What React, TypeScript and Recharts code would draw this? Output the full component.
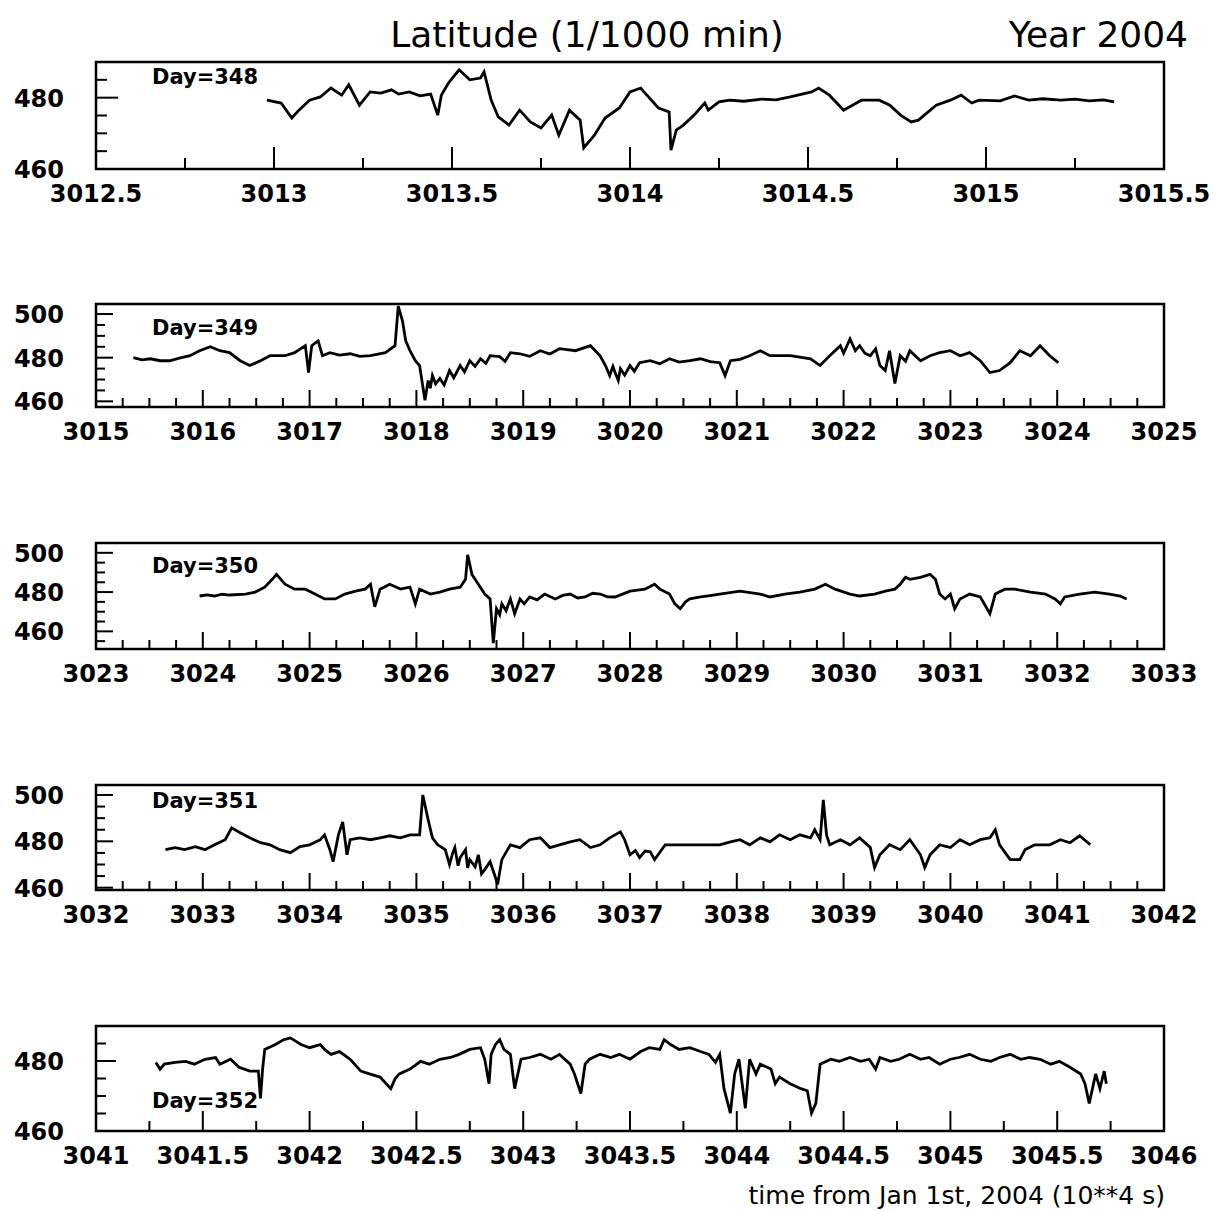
import { LineChart, Line, XAxis, YAxis, ReferenceArea } from 'recharts'

// [time (10^4 s), latitude (1/1000 min)]
const day348: [number, number][] = [
  [3012.98, 479.3], [3013.02, 478.5], [3013.05, 474.3], [3013.07, 476.5], [3013.1, 479.3], [3013.13, 480.2],
  [3013.16, 482.7], [3013.19, 480.7], [3013.21, 483.6], [3013.24, 477.9], [3013.27, 481.6], [3013.3, 481.3],
  [3013.33, 482.2], [3013.35, 481.0], [3013.38, 481.6], [3013.41, 480.5], [3013.44, 481.0], [3013.46, 475.1],
  [3013.47, 480.7], [3013.49, 484.1], [3013.52, 487.8], [3013.55, 485.0], [3013.58, 485.5], [3013.59, 487.2],
  [3013.61, 479.3], [3013.63, 474.6], [3013.66, 472.3], [3013.69, 476.5], [3013.72, 473.2], [3013.75, 471.5],
  [3013.78, 475.1], [3013.8, 469.5], [3013.83, 476.5], [3013.86, 473.7], [3013.87, 465.9], [3013.9, 469.5],
  [3013.93, 474.3], [3013.97, 477.1], [3014.0, 481.6], [3014.03, 482.7], [3014.06, 479.3], [3014.08, 477.1],
  [3014.11, 476.0], [3014.115, 465.3], [3014.13, 470.9], [3014.15, 472.3], [3014.18, 475.1], [3014.21, 478.5],
  [3014.22, 476.5], [3014.25, 478.8], [3014.28, 479.3], [3014.32, 479.0], [3014.37, 479.6], [3014.41, 479.4],
  [3014.45, 480.2], [3014.51, 481.6], [3014.53, 482.7], [3014.56, 480.7], [3014.6, 476.5], [3014.65, 479.3],
  [3014.7, 479.3], [3014.73, 477.9], [3014.76, 475.1], [3014.79, 473.2], [3014.81, 473.7], [3014.86, 477.9],
  [3014.9, 479.3], [3014.93, 480.7], [3014.96, 478.5], [3014.98, 479.3], [3015.04, 479.1], [3015.08, 480.5],
  [3015.12, 479.3], [3015.16, 479.7], [3015.21, 479.3], [3015.25, 479.6], [3015.29, 479.1], [3015.33, 479.4],
  [3015.36, 478.8],
]

const day349: [number, number][] = [
  [3015.35, 480.0], [3015.43, 479.0], [3015.51, 479.5], [3015.6, 478.6], [3015.69, 478.6], [3015.78, 479.8],
  [3015.88, 480.9], [3015.97, 483.2], [3016.07, 485.0], [3016.16, 483.2], [3016.25, 482.3], [3016.35, 478.6],
  [3016.44, 476.4], [3016.54, 478.6], [3016.63, 480.9], [3016.77, 480.9], [3016.86, 482.3], [3016.96, 485.5],
  [3016.99, 473.2], [3017.02, 485.5], [3017.08, 487.7], [3017.12, 480.9], [3017.19, 482.3], [3017.28, 481.2],
  [3017.38, 481.8], [3017.47, 480.6], [3017.57, 480.9], [3017.71, 482.3], [3017.8, 485.5], [3017.83, 503.6],
  [3017.87, 496.8], [3017.9, 487.7], [3017.94, 483.2], [3017.99, 478.6], [3018.03, 476.4], [3018.08, 460.5],
  [3018.11, 469.5], [3018.13, 466.0], [3018.15, 471.8], [3018.18, 468.0], [3018.22, 470.5], [3018.26, 467.5],
  [3018.31, 474.1], [3018.35, 470.8], [3018.41, 476.4], [3018.45, 473.5], [3018.5, 478.6], [3018.55, 476.0],
  [3018.6, 479.5], [3018.65, 477.4], [3018.69, 480.9], [3018.78, 480.5], [3018.83, 478.3], [3018.88, 482.3],
  [3018.97, 481.8], [3019.06, 480.6], [3019.16, 483.2], [3019.25, 481.7], [3019.34, 484.1], [3019.49, 483.2],
  [3019.63, 485.5], [3019.72, 480.9], [3019.77, 476.4], [3019.81, 471.8], [3019.84, 476.0], [3019.86, 473.2],
  [3019.89, 469.6], [3019.91, 475.0], [3019.95, 472.0], [3020.0, 476.4], [3020.04, 473.8], [3020.09, 477.7],
  [3020.19, 478.6], [3020.28, 477.2], [3020.37, 479.5], [3020.46, 478.0], [3020.56, 478.6], [3020.66, 479.5],
  [3020.75, 478.2], [3020.84, 477.7], [3020.89, 471.8], [3020.94, 478.6], [3021.03, 479.2], [3021.12, 480.9],
  [3021.22, 483.2], [3021.31, 480.9], [3021.5, 480.9], [3021.69, 479.5], [3021.78, 476.4], [3021.87, 480.9],
  [3021.97, 485.5], [3022.0, 482.0], [3022.06, 488.6], [3022.11, 483.2], [3022.15, 485.5], [3022.2, 482.0],
  [3022.25, 480.9], [3022.3, 484.0], [3022.34, 476.4], [3022.39, 474.1], [3022.43, 483.2], [3022.48, 468.2],
  [3022.53, 480.9], [3022.58, 478.4], [3022.62, 483.2], [3022.72, 478.6], [3022.81, 480.9], [3022.9, 482.3],
  [3023.0, 483.2], [3023.09, 480.9], [3023.18, 482.3], [3023.28, 478.6], [3023.37, 473.2], [3023.46, 474.1],
  [3023.56, 477.7], [3023.65, 483.2], [3023.75, 480.9], [3023.84, 485.5], [3023.93, 480.9], [3024.01, 477.7],
]

const day350: [number, number][] = [
  [3023.97, 478.0], [3024.04, 478.6], [3024.11, 478.0], [3024.18, 478.9], [3024.25, 478.5], [3024.4, 479.0],
  [3024.49, 480.0], [3024.58, 482.5], [3024.65, 486.5], [3024.69, 489.0], [3024.77, 484.0], [3024.86, 481.5],
  [3024.96, 481.5], [3025.05, 479.0], [3025.14, 476.5], [3025.24, 476.5], [3025.33, 479.0], [3025.43, 480.5],
  [3025.52, 481.5], [3025.57, 484.0], [3025.61, 472.5], [3025.66, 481.5], [3025.75, 484.0], [3025.85, 481.5],
  [3025.94, 482.5], [3025.99, 474.0], [3026.03, 481.5], [3026.13, 479.0], [3026.22, 480.0], [3026.31, 481.5],
  [3026.41, 482.5], [3026.46, 486.5], [3026.48, 499.0], [3026.52, 489.0], [3026.58, 484.0], [3026.64, 479.0],
  [3026.69, 476.5], [3026.72, 454.0], [3026.75, 471.5], [3026.78, 468.5], [3026.8, 474.0], [3026.84, 470.5],
  [3026.88, 476.5], [3026.92, 469.0], [3026.97, 476.5], [3027.01, 474.0], [3027.06, 477.5], [3027.13, 476.0],
  [3027.2, 479.0], [3027.3, 476.5], [3027.37, 478.3], [3027.44, 479.0], [3027.51, 477.0], [3027.58, 477.5],
  [3027.65, 479.4], [3027.72, 479.0], [3027.79, 477.6], [3027.86, 477.5], [3028.0, 480.5], [3028.14, 481.5],
  [3028.23, 484.0], [3028.28, 481.5], [3028.37, 479.0], [3028.42, 474.0], [3028.47, 471.5], [3028.52, 475.0],
  [3028.56, 476.5], [3028.66, 477.5], [3028.75, 478.2], [3028.84, 479.0], [3029.03, 480.5], [3029.22, 479.0],
  [3029.31, 477.5], [3029.45, 479.0], [3029.59, 480.0], [3029.73, 481.5], [3029.83, 484.0], [3029.92, 481.5],
  [3030.06, 479.0], [3030.15, 478.0], [3030.29, 479.0], [3030.39, 480.5], [3030.48, 481.5], [3030.53, 484.0],
  [3030.58, 487.5], [3030.62, 486.5], [3030.72, 487.5], [3030.81, 489.0], [3030.86, 486.5], [3030.9, 479.0],
  [3030.95, 476.5], [3031.0, 479.0], [3031.04, 471.5], [3031.09, 476.5], [3031.18, 479.0], [3031.28, 477.5],
  [3031.37, 469.0], [3031.42, 479.0], [3031.51, 481.5], [3031.6, 481.5], [3031.75, 480.0], [3031.89, 479.0],
  [3031.98, 476.5], [3032.03, 474.0], [3032.07, 477.5], [3032.21, 479.0], [3032.35, 480.0], [3032.49, 479.0],
  [3032.59, 478.0], [3032.65, 476.5],
]

const day351: [number, number][] = [
  [3032.65, 476.4], [3032.74, 477.3], [3032.83, 476.4], [3032.93, 477.7], [3033.02, 476.4], [3033.11, 478.5],
  [3033.21, 480.7], [3033.27, 485.8], [3033.35, 483.7], [3033.44, 481.5], [3033.54, 479.4], [3033.63, 478.5],
  [3033.72, 476.4], [3033.82, 475.1], [3033.91, 477.7], [3034.0, 478.5], [3034.1, 480.7], [3034.14, 482.8],
  [3034.19, 476.4], [3034.22, 471.2], [3034.27, 482.8], [3034.31, 488.4], [3034.35, 474.2], [3034.38, 480.7],
  [3034.47, 481.5], [3034.57, 480.7], [3034.66, 481.5], [3034.75, 482.4], [3034.85, 481.5], [3034.94, 482.8],
  [3035.03, 482.8], [3035.06, 500.0], [3035.11, 489.3], [3035.15, 481.5], [3035.2, 478.5], [3035.27, 476.4],
  [3035.31, 470.0], [3035.34, 475.0], [3035.36, 477.3], [3035.39, 469.5], [3035.41, 473.0], [3035.46, 476.4],
  [3035.48, 468.5], [3035.5, 472.1], [3035.55, 469.0], [3035.58, 474.2], [3035.61, 466.0], [3035.64, 467.8],
  [3035.69, 471.2], [3035.74, 464.4], [3035.76, 461.4], [3035.8, 472.1], [3035.88, 478.5], [3035.97, 477.3],
  [3036.06, 480.7], [3036.16, 481.5], [3036.25, 477.3], [3036.34, 478.5], [3036.44, 479.8], [3036.53, 480.7],
  [3036.63, 477.3], [3036.72, 478.5], [3036.81, 481.5], [3036.91, 484.1], [3036.95, 480.7], [3037.0, 474.2],
  [3037.05, 476.0], [3037.09, 473.0], [3037.14, 475.8], [3037.19, 475.5], [3037.23, 472.1], [3037.33, 478.5],
  [3037.47, 478.5], [3037.84, 478.5], [3037.94, 479.8], [3038.03, 480.7], [3038.12, 478.5], [3038.22, 481.5],
  [3038.31, 479.8], [3038.4, 482.8], [3038.5, 480.7], [3038.59, 482.8], [3038.69, 481.5], [3038.73, 485.0],
  [3038.78, 480.7], [3038.81, 497.9], [3038.84, 482.8], [3038.87, 478.5], [3038.97, 480.7], [3039.06, 478.5],
  [3039.15, 481.5], [3039.25, 477.3], [3039.29, 468.7], [3039.34, 474.2], [3039.43, 478.5], [3039.53, 476.4],
  [3039.62, 480.7], [3039.72, 474.2], [3039.76, 468.7], [3039.81, 474.2], [3039.9, 478.5], [3040.0, 477.3],
  [3040.09, 480.7], [3040.18, 478.5], [3040.28, 480.7], [3040.37, 481.5], [3040.42, 485.0], [3040.46, 478.5],
  [3040.56, 472.1], [3040.65, 472.1], [3040.7, 476.4], [3040.79, 478.5], [3040.93, 478.5], [3041.03, 480.7],
  [3041.12, 479.4], [3041.21, 482.4], [3041.31, 478.5],
]

const day352: [number, number][] = [
  [3041.28, 479.6], [3041.3, 477.7], [3041.32, 479.1], [3041.37, 479.6], [3041.42, 479.9], [3041.46, 479.1],
  [3041.51, 480.5], [3041.56, 481.0], [3041.58, 479.1], [3041.63, 480.5], [3041.67, 478.2], [3041.72, 477.1],
  [3041.76, 477.1], [3041.77, 469.3], [3041.78, 477.7], [3041.79, 483.3], [3041.84, 484.7], [3041.88, 486.1],
  [3041.91, 486.6], [3041.96, 484.7], [3042.0, 483.8], [3042.05, 484.7], [3042.07, 483.3], [3042.1, 481.9],
  [3042.14, 482.7], [3042.19, 480.5], [3042.24, 477.1], [3042.28, 476.3], [3042.33, 475.4], [3042.38, 472.1],
  [3042.4, 474.9], [3042.42, 476.3], [3042.47, 477.7], [3042.52, 479.9], [3042.56, 479.1], [3042.61, 480.5],
  [3042.66, 481.0], [3042.7, 481.9], [3042.75, 483.3], [3042.8, 483.8], [3042.82, 480.5], [3042.84, 473.5],
  [3042.85, 481.9], [3042.87, 484.7], [3042.89, 486.1], [3042.91, 483.3], [3042.94, 481.9], [3042.96, 472.1],
  [3042.99, 480.5], [3043.03, 481.0], [3043.08, 481.9], [3043.13, 480.5], [3043.17, 481.9], [3043.22, 479.1],
  [3043.24, 476.3], [3043.27, 470.7], [3043.29, 479.1], [3043.31, 480.5], [3043.36, 481.9], [3043.41, 481.0],
  [3043.45, 481.9], [3043.5, 480.5], [3043.55, 482.7], [3043.59, 483.8], [3043.64, 483.3], [3043.66, 486.1],
  [3043.69, 484.7], [3043.73, 483.3], [3043.78, 483.8], [3043.83, 482.7], [3043.87, 481.9], [3043.9, 479.6],
  [3043.92, 481.9], [3043.94, 472.1], [3043.97, 465.1], [3043.99, 476.3], [3044.01, 480.5], [3044.04, 466.5],
  [3044.06, 480.5], [3044.09, 476.3], [3044.11, 479.1], [3044.16, 477.7], [3044.18, 473.5], [3044.2, 475.4],
  [3044.25, 473.5], [3044.3, 472.1], [3044.33, 471.5], [3044.35, 465.1], [3044.37, 467.9], [3044.39, 479.1],
  [3044.44, 480.5], [3044.48, 479.9], [3044.53, 481.0], [3044.58, 479.9], [3044.62, 480.5], [3044.65, 477.7],
  [3044.67, 481.0], [3044.72, 479.9], [3044.76, 480.5], [3044.81, 481.9], [3044.86, 480.5], [3044.9, 481.0],
  [3044.95, 479.1], [3045.0, 480.5], [3045.04, 481.0], [3045.09, 481.9], [3045.14, 480.5], [3045.19, 479.9],
  [3045.23, 481.0], [3045.28, 481.9], [3045.33, 480.5], [3045.37, 481.0], [3045.42, 480.5], [3045.47, 479.1],
  [3045.51, 479.9], [3045.56, 478.2], [3045.61, 476.3], [3045.63, 473.5], [3045.65, 467.9], [3045.68, 476.3],
  [3045.7, 472.1], [3045.72, 477.1], [3045.73, 473.5],
]

const TITLE = 'Latitude (1/1000 min)'
const YEAR_LABEL = 'Year 2004'
const X_TITLE = 'time from Jan 1st, 2004 (10**4 s)'

// axis setup per pad (ROOT style: ticks drawn inside the frame)
const PANELS = [
  { day: 348, data: day348, xDomain: [3012.5, 3015.5], xMajor: 0.5, yDomain: [460, 490], top: 62, h: 107, dayDy: 22, tick: [22, 11] },
  { day: 349, data: day349, xDomain: [3015, 3025], xMajor: 1, yDomain: [457.4, 504.6], top: 304, h: 103, dayDy: 31, tick: [17, 9] },
  { day: 350, data: day350, xDomain: [3023, 3033], xMajor: 1, yDomain: [451, 505], top: 543, h: 106, dayDy: 30, tick: [17, 9] },
  { day: 351, data: day351, xDomain: [3032, 3042], xMajor: 1, yDomain: [459, 504.3], top: 785, h: 105, dayDy: 23, tick: [17, 9] },
  { day: 352, data: day352, xDomain: [3041, 3046], xMajor: 0.5, yDomain: [460, 490], top: 1026, h: 105, dayDy: 82, tick: [20, 10] },
]

const FONT = '"DejaVu Sans", sans-serif'
const LEFT = 96
const RIGHT = 54
const M_TOP = 10
const X_AXIS_H = 50

const isMult = (v: number, step: number) => Math.abs(v / step - Math.round(v / step)) < 1e-6

function range(lo: number, hi: number, step: number) {
  const out: number[] = []
  const start = Math.ceil(lo / step - 1e-9)
  for (let i = start; i * step <= hi + 1e-9; i++) out.push(i * step)
  return out
}

function Panel({ p }: { p: (typeof PANELS)[number] }) {
  const rows = p.data.map(([t, v]) => ({ t, v }))
  const xTicks = range(p.xDomain[0], p.xDomain[1], 0.25)
  const yTicks = range(p.yDomain[0], p.yDomain[1], 5)
  const [big, small] = p.tick

  const xTick = (props: any) => {
    const { x, y, payload } = props
    const major = isMult(payload.value, p.xMajor)
    return (
      <g>
        <line x1={x} x2={x} y1={y} y2={y - (major ? big : small)} stroke="#000" strokeWidth={2} />
        {major && (
          <text x={x} y={y + 33} textAnchor="middle" fontFamily={FONT} fontWeight="bold" fontSize={24} fill="#000">
            {String(payload.value)}
          </text>
        )}
      </g>
    )
  }

  const yTick = (props: any) => {
    const { x, y, payload } = props
    const major = isMult(payload.value, 20)
    return (
      <g>
        <line x1={x} x2={x + (major ? big : small)} y1={y} y2={y} stroke="#000" strokeWidth={2} />
        {major && (
          <text x={x - 32} y={y + 9} textAnchor="end" fontFamily={FONT} fontWeight="bold" fontSize={24} fill="#000">
            {String(payload.value)}
          </text>
        )}
      </g>
    )
  }

  return (
    <div style={{ position: 'absolute', left: 0, top: p.top - M_TOP }}>
      <LineChart
        width={1218}
        height={M_TOP + p.h + X_AXIS_H}
        data={rows}
        margin={{ top: M_TOP, right: RIGHT, bottom: 0, left: 0 }}
      >
        <XAxis
          dataKey="t"
          type="number"
          domain={p.xDomain}
          allowDataOverflow
          ticks={xTicks}
          interval={0}
          height={X_AXIS_H}
          tickSize={0}
          tickMargin={0}
          axisLine={false}
          tickLine={false}
          tick={xTick}
        />
        <YAxis
          type="number"
          domain={p.yDomain}
          allowDataOverflow
          ticks={yTicks}
          interval={0}
          width={LEFT}
          tickSize={0}
          tickMargin={0}
          axisLine={false}
          tickLine={false}
          tick={yTick}
        />
        <Line
          type="linear"
          dataKey="v"
          stroke="#000"
          strokeWidth={2.8}
          dot={false}
          isAnimationActive={false}
        />
        <ReferenceArea
          x1={p.xDomain[0]}
          x2={p.xDomain[1]}
          y1={p.yDomain[0]}
          y2={p.yDomain[1]}
          fill="none"
          stroke="#000"
          strokeWidth={2.5}
        />
      </LineChart>
    </div>
  )
}

export default function App() {
  return (
    <div style={{ position: 'absolute', left: 0, top: 0, width: 1218, height: 1211, background: '#fff', overflow: 'hidden' }}>
      {PANELS.map((p) => (
        <Panel key={p.day} p={p} />
      ))}

      {/* titles and day labels */}
      <svg width={1218} height={1211} style={{ position: 'absolute', left: 0, top: 0, pointerEvents: 'none' }}>
        <text x={587} y={47} textAnchor="middle" fontFamily={FONT} fontSize={36} fill="#000">{TITLE}</text>
        <text x={1188} y={47} textAnchor="end" fontFamily={FONT} fontSize={36} fill="#000">{YEAR_LABEL}</text>
        {PANELS.map((p) => (
          <text key={p.day} x={152} y={p.top + p.dayDy} fontFamily={FONT} fontWeight="bold" fontSize={21} fill="#000">
            {`Day=${p.day}`}
          </text>
        ))}
        <text x={1165} y={1204} textAnchor="end" fontFamily={FONT} fontSize={25} fill="#000">{X_TITLE}</text>
      </svg>
    </div>
  )
}
